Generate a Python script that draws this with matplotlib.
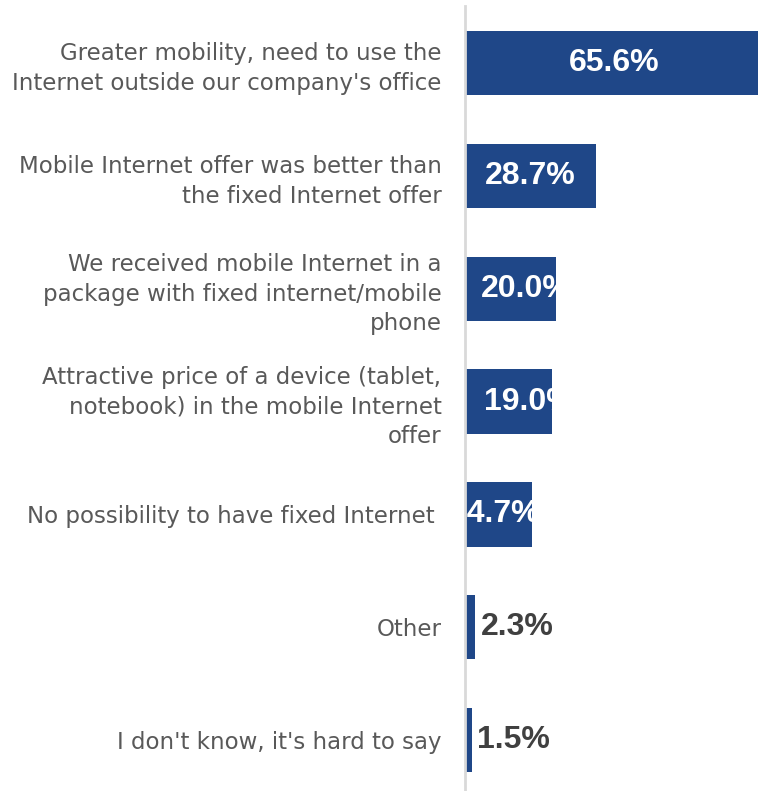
import matplotlib.pyplot as plt

reasons = [
    "Greater mobility, need to use the\nInternet outside our company's office",
    "Mobile Internet offer was better than\nthe fixed Internet offer",
    "We received mobile Internet in a\npackage with fixed internet/mobile\nphone",
    "Attractive price of a device (tablet,\nnotebook) in the mobile Internet\noffer",
    "No possibility to have fixed Internet ",
    "Other",
    "I don't know, it's hard to say",
]
shares = [65.6, 28.7, 20.0, 19.0, 14.7, 2.3, 1.5]

bar_color = "#1f4788"
# small horizontal nudges (points) for the in-bar labels of the narrow bars
nudge = [0, 0, 11, 15, -3, 0, 0]

fig = plt.figure(figsize=(7.58, 7.91), dpi=100)
ax = fig.add_axes([465 / 758, 0, 293 / 758, 784.5 / 791])

pos = list(range(len(reasons)))
bars = ax.barh(pos, shares, height=0.57, color=bar_color)
ax.set_xlim(0, 64.3)
ax.set_ylim(6.45, -0.5)

for p, v, b, dx in zip(pos, shares, bars, nudge):
    txt = f"{v:.1f}%"
    if v > 10:
        t = ax.annotate(txt, (v / 2, p), xytext=(dx, 0), textcoords="offset points",
                        ha="center", va="center", color="white",
                        fontsize=23, fontweight="bold", family="Liberation Sans")
        t.set_clip_path(b)
    else:
        ax.annotate(txt, (v, p), xytext=(4, 0), textcoords="offset points",
                    ha="left", va="center", color="#404040",
                    fontsize=23, fontweight="bold", family="Liberation Sans")

ax.set_yticks(pos)
ax.set_yticklabels(reasons, fontsize=16.5, color="#595959", linespacing=1.36)
ax.tick_params(axis="y", length=0, pad=17)
ax.set_xticks([])
for s in ["top", "right", "bottom"]:
    ax.spines[s].set_visible(False)
ax.spines["left"].set_color("#d9d9d9")
ax.spines["left"].set_linewidth(2)
ax.spines["left"].set_zorder(5)

fig.savefig("out.png", dpi=100)
